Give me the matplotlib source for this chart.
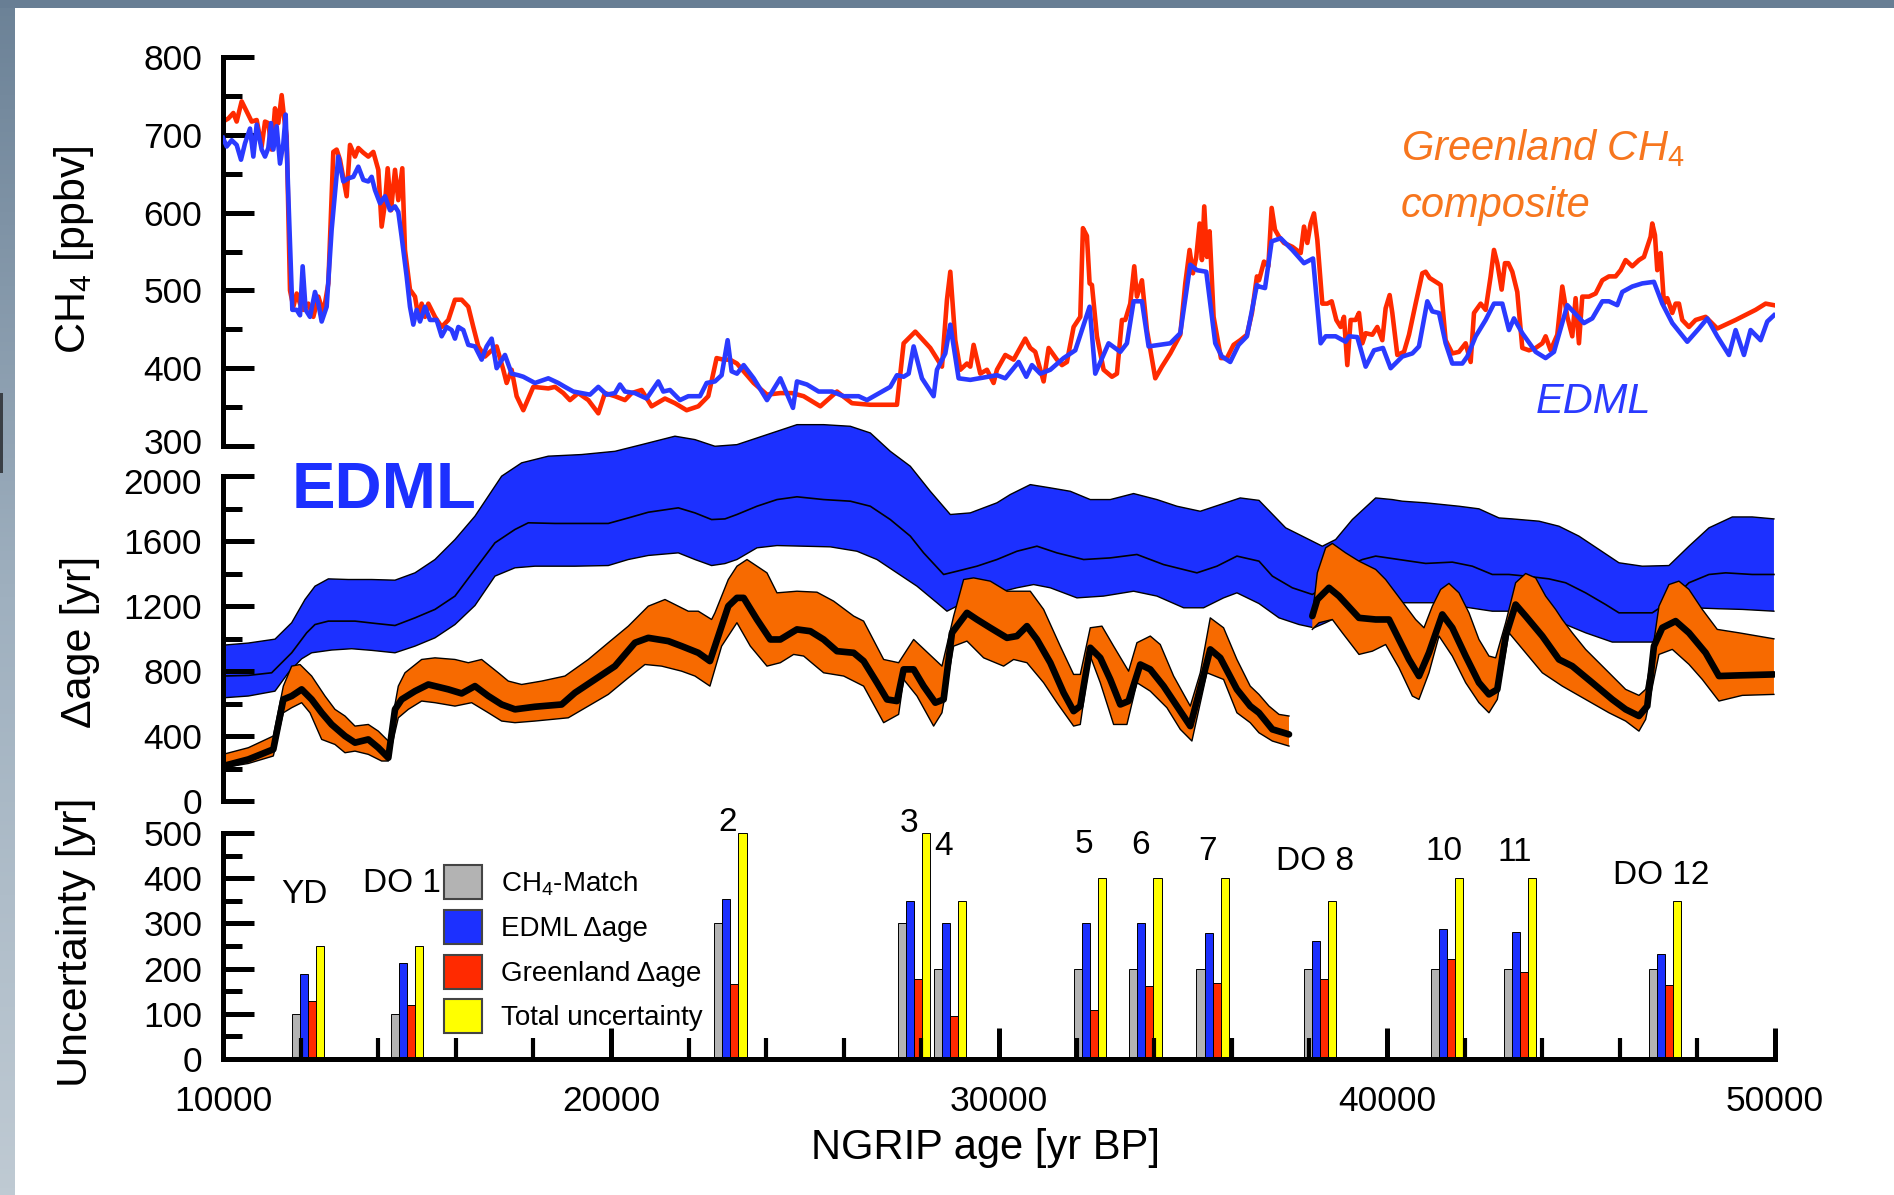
import numpy as np
import matplotlib
matplotlib.use('Agg')
import matplotlib.pyplot as plt
from matplotlib.patches import Patch, Rectangle
from matplotlib.colors import LinearSegmentedColormap
from matplotlib.ticker import MultipleLocator, FuncFormatter
from matplotlib.transforms import blended_transform_factory, ScaledTranslation

plt.rcParams['font.family'] = ['Liberation Sans', 'DejaVu Sans']
plt.rcParams['mathtext.fontset'] = 'custom'
plt.rcParams['mathtext.rm'] = 'Liberation Sans'
plt.rcParams['mathtext.it'] = 'Liberation Sans:italic'
plt.rcParams['mathtext.default'] = 'rm'

# ---------------- data: top panel (CH4, ppbv) ----------------
grn_age = np.array([
    10000, 10138, 10266, 10352, 10481, 10610, 10739, 10868, 10997, 11083, 11168, 11254, 11340, 11426, 11512,
    11572, 11641, 11727, 11813, 11899, 11985, 12070, 12199, 12328, 12457, 12586, 12715, 12843, 12929, 13015,
    13187, 13273, 13402, 13488, 13617, 13745, 13874, 14003, 14089, 14175, 14244, 14330, 14433, 14518, 14621,
    14690, 14819, 14948, 15034, 15120, 15206, 15292, 15463, 15635, 15807, 15979, 16151, 16322, 16451, 16580,
    16752, 16881, 17053, 17224, 17310, 17439, 17568, 17740, 17997, 18384, 18556, 18771, 18942, 19157, 19415,
    19673, 19844, 20102, 20360, 20532, 20789, 21047, 21391, 21648, 21949, 22250, 22507, 22722, 22894, 23066,
    23246,
    23419, 23677, 24020, 24364, 24664, 24965, 25395, 25824, 26211, 26683, 27370, 27542, 27843, 28229, 28530,
    28659, 28745, 28873, 29002, 29174, 29260, 29346, 29518, 29690, 29861, 29947, 30162, 30377, 30677, 30806,
    30935, 31150, 31279, 31493, 31622, 31751, 31923, 32095, 32163, 32266, 32335, 32395, 32524, 32696, 32911,
    33040, 33168, 33254, 33383, 33486, 33555, 33684, 33813, 34028, 34199, 34414, 34672, 34801, 34912, 34998,
    35084, 35170, 35230, 35290, 35359, 35428, 35531, 35720, 35874, 36046, 36218, 36390, 36519, 36647,
    36701, 36830, 36942, 37027, 37113, 37216, 37345, 37560, 37775, 37861, 37947, 38032, 38118, 38204, 38333,
    38462, 38574, 38694, 38806, 38891, 38977, 39063, 39192, 39278, 39364, 39450, 39622, 39750, 39879, 39965,
    40068, 40137, 40266, 40438, 40567, 40738, 40910, 40996, 41099, 41254, 41383, 41511, 41683, 41855, 42027,
    42156, 42242, 42414, 42542, 42671, 42757, 42843, 42955, 43040, 43126, 43229, 43358, 43487, 43659, 43831,
    44003, 44088, 44217, 44389, 44518, 44647, 44775, 44861, 44947, 45033, 45205, 45377, 45549, 45720, 45892,
    46021, 46150, 46322, 46494, 46622, 46708, 46794, 46837, 46906, 46966, 47052, 47138, 47224, 47353, 47439,
    47524, 47610, 47782, 47954, 48212, 48512, 48985, 49500, 49758, 49973])
grn_ch4 = np.array([
    717, 721, 728, 717, 743, 730, 717, 719, 685, 717, 715, 681, 734, 715, 751,
    723, 698, 500, 479, 496, 483, 475, 483, 466, 492, 471, 509, 678, 681, 668,
    621, 687, 672, 683, 677, 672, 678, 655, 582, 612, 657, 603, 655, 616, 657,
    552, 501, 492, 466, 483, 466, 483, 466, 453, 462, 488, 488, 479, 453, 428,
    415, 421, 428, 398, 381, 398, 364, 346, 376, 374, 376, 368, 359, 368, 359,
    342, 368, 364, 359, 368, 372, 351, 361, 355, 346, 351, 364, 413, 411, 411,
    406,
    396, 381, 366, 368, 368, 364, 351, 370, 355, 353, 353, 432, 447, 426, 402,
    488, 524, 436, 398, 406, 402, 430, 393, 398, 381, 398, 417, 411, 438, 426,
    421, 383, 426, 411, 404, 408, 453, 466, 580, 570, 509, 507, 441, 398, 389,
    393, 462, 462, 483, 531, 492, 513, 449, 387, 402, 419, 443, 509, 552, 522,
    543, 586, 539, 608, 543, 576, 466, 413, 413, 430, 436, 443, 471, 518,
    513, 537, 531, 606, 578, 569, 561, 556, 548, 582, 561, 586, 599, 565, 483,
    483, 486, 462, 453, 466, 404, 462, 462, 471, 432, 445, 443, 453, 436, 477,
    494, 471, 417, 421, 443, 483, 522, 524, 516, 511, 507, 436, 419, 421, 432,
    408, 471, 483, 475, 518, 552, 535, 501, 535, 535, 524, 498, 426, 423, 426,
    432, 441, 423, 443, 505, 466, 441, 490, 432, 492, 492, 496, 513, 518, 518,
    526, 539, 531, 539, 543, 556, 569, 586, 571, 526, 548, 483, 490, 471, 483,
    483, 462, 453, 462, 466, 451, 462, 475, 483, 481])

edml_age = np.array([
    10000, 10095, 10224, 10352, 10464, 10567, 10696, 10782, 10868, 10997, 11083, 11168, 11237, 11297, 11383,
    11469, 11555, 11615, 11684, 11787, 11899, 11985, 12053, 12130, 12242, 12371, 12457, 12543, 12672, 12800,
    12972, 13101, 13230, 13359, 13488, 13617, 13745, 13831, 13917, 14046, 14175, 14304, 14433, 14518, 14604,
    14733, 14819, 14905, 14991, 15077, 15206, 15335, 15506, 15635, 15764, 15893, 15979, 16065, 16194, 16322,
    16494, 16666, 16795, 16924, 17053, 17267, 17439, 17611, 17740, 18040, 18384, 18642, 18813, 19028, 19243,
    19458, 19673, 19888, 20102, 20231, 20360, 20617, 20918, 21219, 21348, 21520, 21777, 21992, 22293, 22465,
    22679, 22851, 23006, 23109, 23246,
    23419, 23677, 24020, 24364, 24690, 24793, 25051, 25351, 25695, 25996, 26382, 26597, 27198, 27370, 27542,
    27671, 27800, 28014, 28315, 28401, 28616, 28745, 28959, 29260, 29947, 30162, 30506, 30703, 30849, 31064,
    31322, 31665, 31966, 32335, 32481, 32825, 33126, 33297, 33469, 33684, 33856, 34414, 34672, 34929, 35101,
    35342, 35574, 35745, 35960, 36175, 36390, 36647,
    36701, 36856, 37027, 37259, 37560, 37861, 38093, 38290, 38419, 38677, 38934, 39020, 39235, 39450, 39665,
    39896, 40094, 40395, 40653, 40824, 41039, 41168, 41340, 41511, 41683, 41941, 42070, 42285, 42542, 42757,
    42972, 43144, 43272, 43487, 43831, 44088, 44303, 44647, 45076, 45291, 45549, 45720, 45935, 46064, 46322,
    46580, 46880, 47095, 47353, 47739, 48040, 48254, 48512, 48813, 48985, 49200, 49371, 49629, 49801, 49973])
edml_ch4 = np.array([
    696, 685, 693, 687, 668, 689, 708, 672, 713, 681, 672, 683, 715, 681, 711,
    663, 689, 726, 621, 475, 475, 468, 531, 475, 466, 498, 483, 460, 479, 578,
    672, 640, 644, 646, 659, 642, 640, 646, 629, 612, 621, 603, 608, 601, 569,
    518, 479, 456, 475, 460, 479, 462, 462, 441, 453, 449, 438, 453, 449, 430,
    428, 411, 428, 438, 400, 417, 393, 391, 389, 381, 387, 381, 376, 370, 368,
    366, 376, 366, 368, 379, 370, 368, 361, 383, 370, 372, 359, 364, 364, 381,
    383, 391, 436, 396, 393,
    404, 387, 359, 387, 349, 383, 379, 370, 370, 364, 364, 359, 376, 391, 389,
    393, 428, 387, 364, 398, 419, 456, 387, 385, 391, 387, 408, 389, 404, 393,
    398, 413, 423, 479, 393, 432, 421, 432, 486, 486, 428, 432, 445, 533, 526,
    524, 432, 415, 408, 430, 441, 507,
    505, 503, 563, 567, 552, 535, 541, 432, 441, 441, 434, 441, 440, 402, 423,
    426, 400, 415, 419, 428, 486, 473, 471, 432, 406, 406, 415, 441, 462, 483,
    483, 449, 464, 445, 421, 413, 421, 481, 458, 464, 486, 486, 481, 498, 505,
    509, 511, 483, 458, 434, 451, 464, 441, 417, 449, 417, 449, 436, 460, 468])

# ---------------- data: middle panel (delta age, yr) ----------------
edml_up_age = np.array([
    10000, 10653, 11340, 11770, 12113, 12371, 12715, 13230, 13831, 14433, 14948, 15463, 15979, 16494, 16838,
    17181, 17697, 18384, 19243, 20102, 20789, 21648, 22164, 22679, 23246, 23762, 24278, 24793, 25480, 26168,
    26683, 27198, 27714, 28229, 28745, 29260, 29947, 30291, 30806, 31322, 31837, 32352, 32868, 33469, 34070,
    34586, 35187, 35703, 36218, 36701, 37388, 37732, 38333, 38677, 39106, 39708, 40137, 40395, 40996, 41855,
    42370, 42886, 43229, 43917, 44432, 44947, 45463, 45978, 46580, 47267, 47782, 48298, 48899, 49414, 49973])
edml_up = np.array([
    959, 972, 996, 1097, 1240, 1322, 1367, 1363, 1363, 1359, 1404, 1486, 1609, 1753, 1876,
    1999, 2081, 2122, 2132, 2152, 2193, 2245, 2224, 2183, 2193, 2234, 2275, 2316, 2316, 2306,
    2265, 2152, 2060, 1906, 1763, 1773, 1835, 1886, 1947, 1927, 1906, 1855, 1855, 1892, 1855,
    1814, 1783, 1824, 1865, 1850, 1681, 1640, 1568, 1609, 1732, 1865, 1855, 1845, 1835, 1814,
    1798, 1742, 1736, 1722, 1691, 1630, 1548, 1466, 1445, 1449, 1568, 1681, 1748, 1748, 1736])

edml_mid_age = np.array([
    10000, 10653, 11254, 11770, 12156, 12371, 12715, 13402, 13917, 14433, 14948, 15463, 15979, 16494, 17010,
    17525, 17869, 18556, 19243, 19930, 20446, 20961, 21734, 22164, 22593, 22937, 23246, 23762, 24278, 24793,
    25480, 26168, 26683, 27198, 27714, 28057, 28573, 28916, 29432, 29947, 30463, 30978, 31493, 32181, 32868,
    33555, 34242, 35101, 35617, 36132, 36701, 37045, 37560, 38075, 38505, 38934, 39364, 39708, 40309, 40996,
    41683, 42199, 42714, 43144, 43573, 44174, 44604, 45119, 45635, 45978, 46837, 47353, 47782, 48298, 48727,
    49414, 49973])
edml_mid = np.array([
    769, 773, 789, 912, 1035, 1086, 1107, 1107, 1093, 1080, 1127, 1179, 1261, 1425, 1589,
    1671, 1712, 1708, 1708, 1708, 1742, 1777, 1804, 1773, 1732, 1736, 1763, 1814, 1855, 1872,
    1855, 1845, 1814, 1732, 1630, 1527, 1394, 1414, 1445, 1486, 1537, 1568, 1527, 1486, 1496,
    1517, 1455, 1404, 1445, 1507, 1476, 1384, 1312, 1271, 1330, 1440, 1486, 1507, 1486, 1462,
    1470, 1445, 1394, 1394, 1384, 1367, 1343, 1281, 1209, 1158, 1158, 1240, 1343, 1394, 1404,
    1394, 1394])

edml_lo_age = np.array([
    10000, 10653, 11340, 11684, 12027, 12285, 12800, 13316, 13831, 14433, 14948, 15463, 15979, 16494, 17010,
    17525, 18040, 19071, 19930, 20446, 20961, 21734, 22164, 22593, 22937, 23246, 23762, 24278, 24965, 25652,
    26339, 26855, 27370, 27886, 28401, 28659, 28916, 29432, 29947, 30463, 30892, 31322, 32009, 32696, 33469,
    34070, 34758, 35273, 35788, 36132, 36701, 37216, 37732, 38118, 38419, 38677, 39278, 40137, 41168, 41855,
    42714, 43229, 43917, 44604, 45119, 45806, 46837, 47009, 47524, 47868, 48555, 49157, 49973])
edml_lo = np.array([
    635, 646, 676, 789, 875, 912, 929, 937, 927, 912, 953, 1004, 1086, 1203, 1384,
    1435, 1445, 1445, 1449, 1486, 1511, 1527, 1486, 1449, 1461, 1486, 1558, 1572, 1568, 1564,
    1537, 1486, 1404, 1322, 1220, 1168, 1199, 1261, 1281, 1312, 1332, 1312, 1250, 1261, 1291,
    1261, 1189, 1189, 1250, 1281, 1215, 1127, 1086, 1066, 1097, 1127, 1199, 1220, 1220, 1199,
    1168, 1168, 1138, 1086, 1035, 978, 978, 994, 1138, 1189, 1183, 1179, 1168])

# Greenland delta age, section 1 (to ~37.5 kyr)
grl1_up_age = np.array([
    10000, 10653, 11297, 11555, 11770, 11985, 12285, 12629, 12886, 13144, 13402, 13745, 14003, 14261, 14518,
    14690, 15120, 15463, 15979, 16322, 16666, 17096, 17353, 17697, 18212, 18813, 19415, 19930, 20446, 20961,
    21391, 21992, 22250, 22593, 22679, 23023, 23246, 23505, 24020, 24278, 24793, 25309, 25738, 26254, 26511,
    27027, 27413, 27800, 28530, 28831, 29088, 29346, 29775, 30205, 30806, 31150, 31579, 31923, 32095, 32352,
    32653, 32954, 33340, 33555, 33899, 34156, 34500, 34930, 35187, 35445, 35788, 36132, 36475, 36699, 36959,
    37216, 37474])
grl1_up = np.array([
    287, 328, 400, 707, 830, 840, 769, 646, 564, 523, 461, 471, 430, 369, 707,
    789, 871, 881, 871, 851, 871, 789, 738, 717, 738, 769, 871, 974, 1076, 1199,
    1240, 1168, 1168, 1117, 1158, 1363, 1445, 1486, 1404, 1281, 1291, 1285, 1230, 1138, 1107,
    871, 851, 994, 830, 1138, 1363, 1373, 1353, 1291, 1291, 1179, 953, 779, 779, 1066,
    1076, 953, 799, 974, 1015, 963, 769, 584, 789, 1127, 1066, 871, 707, 656, 584,
    533, 523])
grl1_mid_age = np.array([
    10000, 10653, 11297, 11555, 11770, 12027, 12285, 12543, 12800, 13144, 13402, 13745, 14003, 14261, 14433,
    14604, 14948, 15292, 15807, 16151, 16494, 16838, 17181, 17525, 18040, 18728, 19071, 19587, 20102, 20617,
    20961, 21476, 21820, 22250, 22550, 22679, 23023, 23246, 23419, 23762, 24106, 24364, 24793, 25137, 25480,
    25824, 26254, 26511, 26855, 27113, 27370, 27542, 27800, 28057, 28358, 28573, 28788, 29174, 29432, 29775,
    30205, 30463, 30720, 30978, 31322, 31665, 31923, 32095, 32352, 32610, 32868, 33126, 33340, 33641, 33899,
    34242, 34586, 34930, 35144, 35445, 35703, 36132, 36475, 36699, 37045, 37474])
grl1_mid = np.array([
    215, 256, 318, 625, 646, 687, 625, 543, 471, 400, 359, 379, 328, 266, 564,
    625, 676, 717, 687, 662, 707, 646, 594, 564, 580, 594, 666, 748, 830, 974,
    1004, 984, 953, 912, 861, 953, 1199, 1250, 1250, 1117, 994, 994, 1056, 1045, 994,
    922, 912, 861, 728, 625, 615, 810, 810, 707, 605, 625, 1035, 1158, 1117, 1066,
    1004, 1015, 1076, 994, 851, 666, 553, 584, 943, 881, 748, 594, 615, 840, 810,
    707, 584, 461, 656, 933, 881, 687, 584, 543, 441, 410])
grl1_lo_age = np.array([
    10000, 10653, 11297, 11555, 11770, 12027, 12242, 12543, 12886, 13144, 13402, 13745, 14089, 14261, 14518,
    14776, 15120, 15463, 15979, 16408, 16838, 17181, 17525, 18040, 18899, 19415, 19930, 20446, 20875, 21305,
    21820, 22164, 22550, 22851, 23246, 23591, 24020, 24364, 24707, 24965, 25480, 25996, 26511, 27027, 27413,
    27542, 27886, 28315, 28530, 28831, 29174, 29604, 30119, 30377, 30720, 31150, 31493, 31923, 32095, 32352,
    32610, 32954, 33297, 33555, 33899, 34328, 34672, 34972, 35359, 35788, 36132, 36475, 36699, 37045, 37474])
grl1_lo = np.array([
    205, 231, 277, 543, 574, 605, 543, 379, 348, 297, 307, 287, 246, 246, 512,
    564, 615, 605, 584, 605, 543, 492, 482, 492, 512, 584, 656, 758, 840, 830,
    799, 769, 707, 953, 1097, 953, 830, 851, 902, 892, 789, 769, 707, 482, 533,
    748, 646, 461, 543, 953, 984, 881, 830, 871, 851, 728, 605, 461, 471, 892,
    728, 471, 471, 728, 676, 574, 441, 369, 789, 748, 543, 482, 420, 369, 338])

# Greenland delta age, section 2 (from ~38 kyr)
grl2_up_age = np.array([
    38075, 38204, 38419, 38591, 38934, 39278, 39708, 39965, 40223, 40481, 40738, 40953, 41168, 41383, 41597,
    41855, 42113, 42370, 42628, 42800, 43058, 43315, 43573, 43831, 44088, 44346, 44518, 44775, 45119, 45635,
    46150, 46494, 46666, 46837, 47009, 47267, 47524, 47782, 48126, 48512, 49071, 49973])
grl2_up = np.array([
    1138, 1404, 1558, 1585, 1527, 1476, 1425, 1363, 1281, 1199, 1117, 1066, 1199, 1302, 1339,
    1281, 1158, 994, 892, 881, 1097, 1343, 1400, 1373, 1261, 1179, 1117, 1035, 933, 810,
    687, 650, 687, 912, 1199, 1332, 1353, 1302, 1179, 1056, 1035, 998])
grl2_mid_age = np.array([
    38075, 38204, 38505, 38763, 39278, 39708, 40051, 40309, 40567, 40824, 41082, 41426, 41683, 42027, 42370,
    42628, 42843, 43058, 43315, 43573, 44003, 44432, 44775, 45291, 45806, 46150, 46494, 46708, 46880, 47095,
    47439, 47782, 48212, 48555, 49071, 49973])
grl2_mid = np.array([
    1138, 1240, 1312, 1261, 1127, 1117, 1117, 994, 871, 769, 912, 1148, 1066, 892, 728,
    656, 687, 1015, 1209, 1138, 1015, 871, 830, 728, 625, 564, 523, 584, 953, 1066,
    1107, 1035, 912, 769, 773, 779])
grl2_lo_age = np.array([
    38075, 38247, 38591, 38849, 39278, 39622, 39965, 40309, 40653, 40824, 41082, 41340, 41683, 42027, 42370,
    42628, 42843, 43144, 43573, 44003, 44518, 45119, 45720, 46150, 46494, 46666, 47009, 47353, 47782, 48126,
    48555, 49157, 49973])
grl2_lo = np.array([
    1056, 1097, 1117, 1035, 902, 922, 963, 820, 646, 625, 789, 1015, 892, 728, 605,
    543, 625, 1035, 912, 789, 707, 625, 543, 492, 430, 502, 902, 933, 841, 748,
    615, 650, 656])

# ---------------- data: bottom panel (uncertainty, yr) ----------------
event_names = ['YD', 'DO 1', '2', '3', '4', '5', '6', '7', 'DO 8', '10', '11', 'DO 12']
event_age = np.array([12196, 14737, 23077, 27801, 28737, 32345, 33773, 35505, 38281, 41546, 43435, 47167])
ch4_match = np.array([100, 100, 300, 300, 200, 200, 200, 200, 200, 200, 200, 200])
edml_dage_unc = np.array([187, 212, 355, 350, 300, 300, 300, 278, 262, 287, 280, 232])
grl_dage_unc = np.array([129, 119, 165, 178, 96, 108, 162, 168, 178, 222, 192, 164])
total_unc = np.array([250, 250, 500, 500, 350, 400, 400, 400, 350, 400, 400, 350])
bar_labels = ['CH$_4$-Match', 'EDML Δage', 'Greenland Δage', 'Total uncertainty']

# label placement (layout)
label_x = [12088, 14606, 23000, 27680, 28582, 32191, 33660, 35361, 38144, 41469, 43299, 47062]
label_y = [364, 389, 524, 521, 470, 475, 472, 459, 436, 459, 457, 406]

# ---------------- styles ----------------
C_RED = '#FF2A00'
C_BLUE_LINE = '#2A3AFF'
C_BLUE = '#1C30FF'
C_ORANGE = '#F76A00'
C_ORANGE_TXT = '#F7761E'
BAR_COLORS = ['#B3B3B3', C_BLUE, C_RED, '#FFFF00']
BAR_W = 208
TICK_FS = 25.5
YPAD = 15

W, H = 1894, 1195
fig = plt.figure(figsize=(W / 100, H / 100), dpi=100)
fig.patch.set_facecolor('white')

# decorative frame (slide border)
bg = fig.add_axes([0, 0, 1, 1], zorder=-10)
bg.set_xlim(0, W)
bg.set_ylim(H, 0)
bg.axis('off')
grad = np.linspace(0, 1, 256).reshape(-1, 1)
cmap = LinearSegmentedColormap.from_list('frame', ['#6C8297', '#9FB0BF', '#BFCAD3'])
bg.imshow(grad, extent=[0, 15, H, 0], cmap=cmap, aspect='auto', interpolation='bilinear')
bg.add_patch(Rectangle((0, 0), W, 8, color='#687E94', lw=0))
bg.add_patch(Rectangle((0, 393), 2.5, 80, color='#3A3F45', lw=0))

L, R = 223 / W, 1775 / W


def frac(top, bot):
    return [L, 1 - bot / H, R - L, (bot - top) / H]


ax1 = fig.add_axes(frac(57, 446))
ax2 = fig.add_axes(frac(476, 801))
ax3 = fig.add_axes(frac(833, 1059))

for ax in (ax1, ax2, ax3):
    ax.set_xlim(10000, 50000)
    ax.set_facecolor('none')
    ax.spines['top'].set_visible(False)
    ax.spines['right'].set_visible(False)
    ax.spines['left'].set_linewidth(3.6)
    ax.spines['bottom'].set_linewidth(3.6)
    ax.tick_params(axis='y', which='major', direction='in', length=22, width=3.6, pad=YPAD, labelsize=TICK_FS)
    ax.tick_params(axis='y', which='minor', direction='in', length=14, width=3.6)
    ax.set_axisbelow(False)
for ax in (ax1, ax2):
    ax.spines['bottom'].set_visible(False)
    ax.tick_params(axis='x', which='both', bottom=False, labelbottom=False)

ax3.xaxis.set_major_locator(MultipleLocator(10000))
ax3.xaxis.set_minor_locator(MultipleLocator(2000))
ax3.tick_params(axis='x', which='major', direction='in', length=22, width=3.6, pad=18.5, labelsize=TICK_FS)
ax3.tick_params(axis='x', which='minor', direction='in', length=15, width=3.0)

ax1.set_ylim(300, 800)
ax1.yaxis.set_major_locator(MultipleLocator(100))
ax1.yaxis.set_minor_locator(MultipleLocator(50))
ax2.set_ylim(0, 2000)
ax2.yaxis.set_major_locator(MultipleLocator(400))
ax2.yaxis.set_minor_locator(MultipleLocator(200))
ax3.set_ylim(0, 500)
ax3.yaxis.set_major_locator(MultipleLocator(100))
ax3.yaxis.set_minor_locator(MultipleLocator(50))

# the "300" and "2000" labels sit on adjoining ends of two panels: draw them
# nudged slightly apart so they do not collide
ax1.yaxis.set_major_formatter(FuncFormatter(lambda v, p: '' if v == 300 else f'{v:.0f}'))
ax2.yaxis.set_major_formatter(FuncFormatter(lambda v, p: '' if v == 2000 else f'{v:.0f}'))
tr1 = blended_transform_factory(ax1.transAxes, ax1.transData) + \
    ScaledTranslation(-YPAD / 72, 5 / 100, fig.dpi_scale_trans)
tr2 = blended_transform_factory(ax2.transAxes, ax2.transData) + \
    ScaledTranslation(-YPAD / 72, -5 / 100, fig.dpi_scale_trans)
ax1.text(0, 300, '300', transform=tr1, ha='right', va='center_baseline', fontsize=TICK_FS)
ax2.text(0, 2000, '2000', transform=tr2, ha='right', va='center_baseline', fontsize=TICK_FS)

# ---- top panel
ax1.plot(grn_age, grn_ch4, color=C_RED, lw=3.3, solid_joinstyle='round', zorder=2)
ax1.plot(edml_age, edml_ch4, color=C_BLUE_LINE, lw=3.3, solid_joinstyle='round', zorder=3)
ax1.text(40353, 667.6, r'Greenland CH$_\mathit{4}$', color=C_ORANGE_TXT, fontsize=30, style='italic',
         ha='left', va='baseline')
ax1.text(40353, 594.7, 'composite', color=C_ORANGE_TXT, fontsize=30, style='italic',
         ha='left', va='baseline')
ax1.text(43832, 342, 'EDML', color=C_BLUE_LINE, fontsize=30, style='italic', ha='left', va='baseline')

# ---- middle panel
ax2.fill(np.r_[edml_up_age, edml_lo_age[::-1]], np.r_[edml_up, edml_lo[::-1]],
         color=C_BLUE, lw=0, clip_on=False, zorder=1)
ax2.plot(edml_up_age, edml_up, color='black', lw=1.0, clip_on=False, zorder=1.5)
ax2.plot(edml_lo_age, edml_lo, color='black', lw=1.0, zorder=1.5)
ax2.plot(edml_mid_age, edml_mid, color='black', lw=1.2, zorder=1.5)
for ua, u, ma, m, la, lo in ((grl1_up_age, grl1_up, grl1_mid_age, grl1_mid, grl1_lo_age, grl1_lo),
                             (grl2_up_age, grl2_up, grl2_mid_age, grl2_mid, grl2_lo_age, grl2_lo)):
    ax2.fill(np.r_[ua, la[::-1]], np.r_[u, lo[::-1]], color=C_ORANGE, lw=0, zorder=2)
    ax2.plot(ua, u, color='black', lw=1.0, zorder=2.2)
    ax2.plot(la, lo, color='black', lw=1.0, zorder=2.2)
    ax2.plot(ma, m, color='black', lw=4.8, solid_joinstyle='round', solid_capstyle='round', zorder=2.4)
ax2.text(11771, 1801, 'EDML', color=C_BLUE, fontsize=47, fontweight='bold', ha='left', va='baseline')

# ---- bottom panel
offsets = np.array([-1.5, -0.5, 0.5, 1.5]) * BAR_W
for vals, col, off in zip([ch4_match, edml_dage_unc, grl_dage_unc, total_unc], BAR_COLORS, offsets):
    ax3.bar(event_age + off, vals, width=BAR_W, color=col, edgecolor='black', linewidth=0.7, zorder=2)
for name, lx, ly in zip(event_names, label_x, label_y):
    ax3.text(lx, ly, name, fontsize=24, ha='center', va='center', clip_on=False)

handles = [Patch(facecolor=c, edgecolor='#444444', linewidth=1.5) for c in BAR_COLORS]
ax3.legend(handles, bar_labels, loc='upper left', bbox_to_anchor=(0.1421, 0.858), frameon=False,
           fontsize=20, handlelength=1.37, handleheight=1.508, labelspacing=0.385, handletextpad=0.7,
           borderpad=0, borderaxespad=0)

# ---- axis titles
fig.text(74 / W, 1 - 250 / H, 'CH$_4$ [ppbv]', rotation=90, ha='center', va='center', fontsize=31)
fig.text(80 / W, 1 - 642 / H, 'Δage [yr]', rotation=90, ha='center', va='center', fontsize=31)
fig.text(76 / W, 1 - 942 / H, 'Uncertainty [yr]', rotation=90, ha='center', va='center', fontsize=31)
fig.text(985 / W, 1 - 1148 / H, 'NGRIP age [yr BP]', ha='center', va='center', fontsize=30)

fig.savefig('out.png', dpi=100)
